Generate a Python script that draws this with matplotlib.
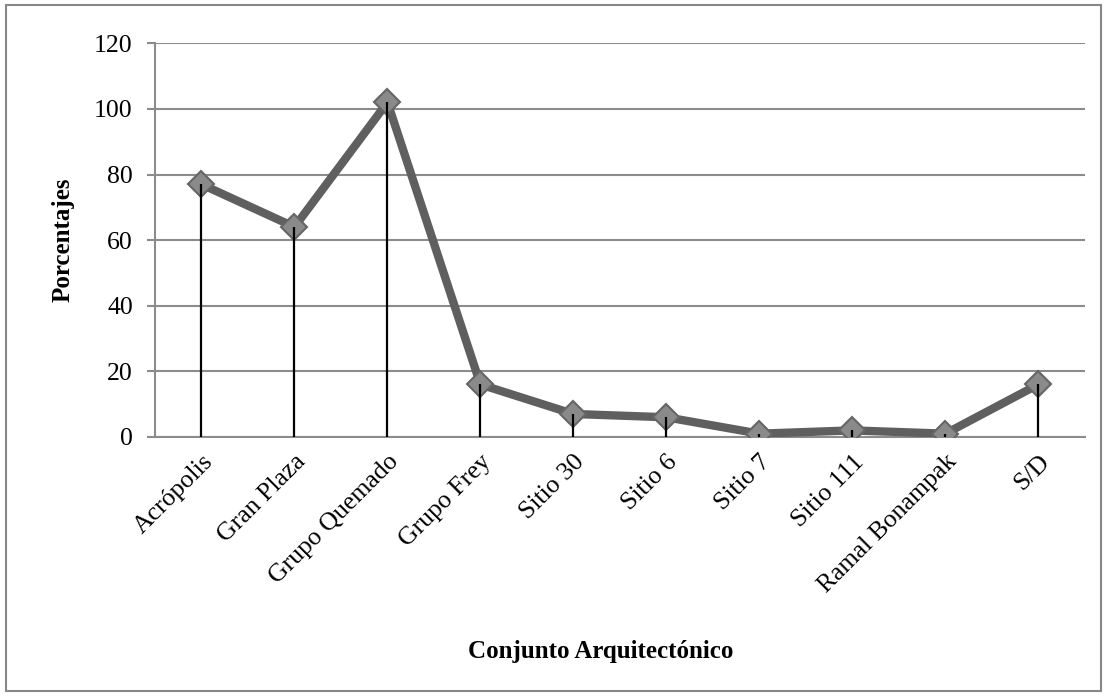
import matplotlib
matplotlib.use("Agg")
import matplotlib.pyplot as plt
from matplotlib.patches import Rectangle

categorias = ["Acrópolis", "Gran Plaza", "Grupo Quemado", "Grupo Frey", "Sitio 30",
              "Sitio 6", "Sitio 7", "Sitio 111", "Ramal Bonampak", "S/D"]
porcentajes = [77, 64, 102, 16, 7, 6, 1, 2, 1, 16]
y_ticks = [0, 20, 40, 60, 80, 100, 120]

plt.rcParams["font.family"] = ["Liberation Serif", "DejaVu Serif"]

fig = plt.figure(figsize=(11.07, 6.98), dpi=100)
ax = fig.add_axes([0.140, 0.374, 0.840, 0.564])

# outer frame of the chart
fig.patches.append(Rectangle((0.005, 0.01), 0.99, 0.983, transform=fig.transFigure,
                             fill=False, edgecolor="#888888", linewidth=1.5))

x = list(range(len(categorias)))

# main line with diamond markers
ax.plot(x, porcentajes, color="#5f5f5f", linewidth=6, zorder=4,
        solid_joinstyle="round")
ax.plot(x, porcentajes, linestyle="none", marker="D", markersize=13,
        markerfacecolor="#8a8a8a", markeredgecolor="#666666", markeredgewidth=1.5, zorder=5)

# drop lines to the axis, drawn on top
ax.vlines(x, 0, porcentajes, color="black", linewidth=1.6, zorder=6)

ax.set_xlim(-0.5, len(categorias) - 0.5)
ax.set_ylim(0, 120)
ax.set_yticks(y_ticks)
ax.set_yticklabels([str(v) for v in y_ticks], fontsize=18.5)
ax.set_xticks(x)
ax.set_xticklabels(categorias, rotation=45, ha="right", rotation_mode="anchor", fontsize=18.5)

ax.grid(axis="y", color="#8c8c8c", linewidth=1.5)
ax.set_axisbelow(True)
for s in ["top", "right"]:
    ax.spines[s].set_visible(False)
ax.spines["left"].set_color("#8c8c8c")
ax.spines["left"].set_linewidth(1.5)
ax.spines["bottom"].set_color("#8c8c8c")
ax.spines["bottom"].set_linewidth(1.5)
ax.tick_params(axis="y", color="#8c8c8c", width=1.5, length=6, pad=10)
ax.tick_params(axis="x", length=0, pad=10)

ax.set_ylabel("Porcentajes", fontsize=18, fontweight="bold", labelpad=14)
fig.text(0.543, 0.057, "Conjunto Arquitectónico", fontsize=18, fontweight="bold", ha="center")

fig.savefig("out.png", dpi=100)
